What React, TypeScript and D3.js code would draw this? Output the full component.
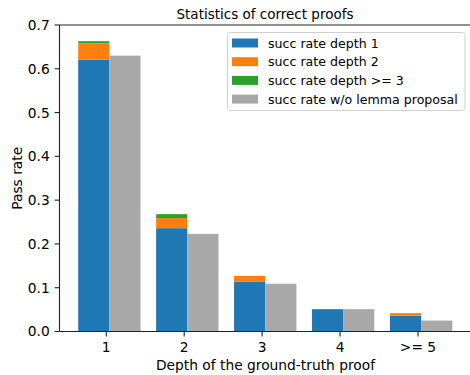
import React from "react";
import * as d3 from "d3";

const categories = ["1", "2", "3", "4", ">= 5"];
const depth1 = [0.621, 0.236, 0.114, 0.051, 0.036];
const depth2 = [0.037, 0.023, 0.013, 0.0, 0.006];
const depth3 = [0.005, 0.009, 0.0, 0.0, 0.0];
const noLemma = [0.63, 0.223, 0.109, 0.051, 0.025];
const yTicks = [0, 0.1, 0.2, 0.3, 0.4, 0.5, 0.6, 0.7];

const legendItems = [
  { label: "succ rate depth 1", color: "#1f77b4" },
  { label: "succ rate depth 2", color: "#ff7f0e" },
  { label: "succ rate depth >= 3", color: "#2ca02c" },
  { label: "succ rate w/o lemma proposal", color: "#a9a9a9" },
];

const W = 470;
const H = 375;
const FONT = "'DejaVu Sans', sans-serif";
const FS = 13.8;
const LEGEND_FS = 12.6;

export default function App() {
  const barW = 0.4;
  const pad = 0.24;
  const tickShift = -0.04;
  const left = 59.5;
  const right = 471;
  const top = 25;
  const bottom = 331.5;

  const x = d3
    .scaleLinear()
    .domain([-barW - pad, categories.length - 1 + barW + pad])
    .range([left, right]);
  const y = d3.scaleLinear().domain([0, 0.7]).range([bottom, top]);
  const bw = x(barW) - x(0);

  // stacked segments for the blue/orange/green bar
  const stacks = categories.map((_, i) => {
    const segs = [depth1[i], depth2[i], depth3[i]];
    let acc = 0;
    return segs.map((v, k) => {
      const s = { y0: acc, y1: acc + v, color: legendItems[k].color };
      acc += v;
      return s;
    });
  });

  return (
    <svg
      width={W}
      height={H}
      style={{ position: "absolute", left: 0, top: 0, background: "#fff" }}
      fontFamily={FONT}
    >
      <rect width={W} height={H} fill="#fff" />
      {stacks.map((segs, i) =>
        segs
          .filter((s) => s.y1 > s.y0)
          .map((s, k) => (
            <rect
              key={`s${i}-${k}`}
              x={x(i - barW)}
              width={bw}
              y={y(s.y1)}
              height={y(s.y0) - y(s.y1)}
              fill={s.color}
            />
          ))
      )}
      {noLemma.map((v, i) => (
        <rect
          key={`g${i}`}
          x={x(i)}
          width={bw}
          y={y(v)}
          height={y(0) - y(v)}
          fill={legendItems[3].color}
        />
      ))}

      {/* spines */}
      <g stroke="#222" strokeWidth={1.1}>
        <line x1={left} x2={left} y1={top} y2={bottom} />
        <line x1={left} x2={right} y1={bottom} y2={bottom} />
        <line x1={left} x2={right} y1={top} y2={top} />
        <line x1={right} x2={right} y1={top} y2={bottom} />
      </g>

      {yTicks.map((t) => (
        <g key={`y${t}`}>
          <line x1={left - 4.9} x2={left} y1={y(t)} y2={y(t)} stroke="#222" strokeWidth={1.1} />
          <text x={left - 9.8} y={y(t)} dy="0.36em" textAnchor="end" fontSize={FS}>
            {t.toFixed(1)}
          </text>
        </g>
      ))}

      {categories.map((c, i) => (
        <g key={`x${c}`}>
          <line
            x1={x(i + tickShift)}
            x2={x(i + tickShift)}
            y1={bottom}
            y2={bottom + 4.9}
            stroke="#222"
            strokeWidth={1.1}
          />
          <text x={x(i + tickShift)} y={352} textAnchor="middle" fontSize={FS}>
            {c}
          </text>
        </g>
      ))}

      <text x={265.5} y={370} textAnchor="middle" fontSize={FS}>
        Depth of the ground-truth proof
      </text>
      <text
        transform={`translate(22,${(top + bottom) / 2}) rotate(-90)`}
        textAnchor="middle"
        fontSize={FS}
      >
        Pass rate
      </text>
      <text x={265} y={18.5} textAnchor="middle" fontSize={13.5}>
        Statistics of correct proofs
      </text>

      {/* legend */}
      <rect
        x={227.5}
        y={32.5}
        width={237.5}
        height={78}
        rx={3}
        fill="#fff"
        fillOpacity={0.8}
        stroke="#d0d0d0"
        strokeWidth={1}
      />
      {legendItems.map((d, k) => (
        <g key={d.label} transform={`translate(0,${43 + k * 18.7})`}>
          <rect x={232} y={-4.5} width={26} height={9} fill={d.color} />
          <text x={268} y={0} dy="0.36em" fontSize={LEGEND_FS}>
            {d.label}
          </text>
        </g>
      ))}
    </svg>
  );
}
